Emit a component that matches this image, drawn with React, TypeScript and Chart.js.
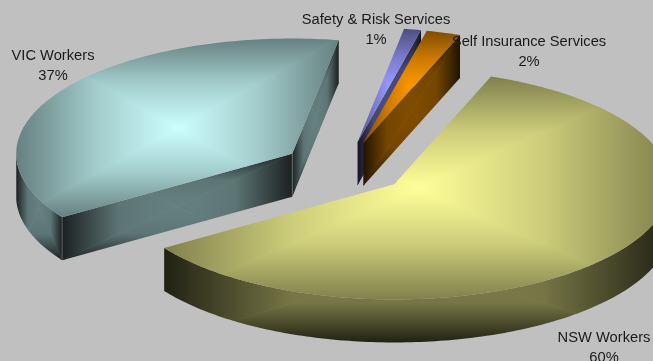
import { useEffect, useRef } from "react";
import { Chart, registerables } from "chart.js";

Chart.register(...registerables);

// Share of workers by business line.
const categories = ["NSW Workers", "VIC Workers", "Safety & Risk Services", "Self Insurance Services"];
const shares = [60, 37, 1, 2];
const sliceColors = ["#ffff99", "#ccffff", "#9999ff", "#ff9900"];

// Tilted-disc look of the pie.
const SQUASH = 0.417;
const DEPTH = 43;
// Brightness at the centre, halfway out and at the edge of a face's gradient.
const TOP_SHADES: [number, number, number] = [1, 0.8, 0.5];
const WALL_SHADES: [number, number, number] = [0.5, 0.46, 0.13];

const labelCentres = [
  { x: 604, y: 338 },
  { x: 53, y: 56 },
  { x: 376, y: 20 },
  { x: 529, y: 42 },
];

type Pt = { x: number; y: number };

function shade(hex: string, k: number) {
  const n = parseInt(hex.slice(1), 16);
  const ch = (v: number) => Math.round(v * k);
  return `rgb(${ch((n >> 16) & 255)},${ch((n >> 8) & 255)},${ch(n & 255)})`;
}

function tracePolygon(ctx: CanvasRenderingContext2D, pts: Pt[]) {
  ctx.beginPath();
  pts.forEach((p, i) => (i ? ctx.lineTo(p.x, p.y) : ctx.moveTo(p.x, p.y)));
  ctx.closePath();
}

// Rectangular path gradient: bright in the middle of the bounding box, falling
// off towards each of its four sides.
function fillPathGradient(
  ctx: CanvasRenderingContext2D,
  pts: Pt[],
  color: string,
  shades: [number, number, number],
) {
  const xs = pts.map((p) => p.x);
  const ys = pts.map((p) => p.y);
  const x0 = Math.min(...xs);
  const x1 = Math.max(...xs);
  const y0 = Math.min(...ys);
  const y1 = Math.max(...ys);
  const cx = (x0 + x1) / 2;
  const cy = (y0 + y1) / 2;
  ctx.save();
  tracePolygon(ctx, pts);
  ctx.clip();
  const sides: [Pt, Pt, Pt][] = [
    [{ x: x0, y: y0 }, { x: x1, y: y0 }, { x: cx, y: y0 }],
    [{ x: x1, y: y0 }, { x: x1, y: y1 }, { x: x1, y: cy }],
    [{ x: x1, y: y1 }, { x: x0, y: y1 }, { x: cx, y: y1 }],
    [{ x: x0, y: y1 }, { x: x0, y: y0 }, { x: x0, y: cy }],
  ];
  for (const [a, b, end] of sides) {
    const g = ctx.createLinearGradient(cx, cy, end.x, end.y);
    g.addColorStop(0, shade(color, shades[0]));
    g.addColorStop(0.5, shade(color, shades[1]));
    g.addColorStop(1, shade(color, shades[2]));
    tracePolygon(ctx, [a, b, { x: cx, y: cy }]);
    ctx.fillStyle = g;
    ctx.strokeStyle = g;
    ctx.lineWidth = 0.7;
    ctx.fill();
    ctx.stroke();
  }
  ctx.restore();
}

const down = (p: Pt): Pt => ({ x: p.x, y: p.y + DEPTH });

function drawSlice(ctx: CanvasRenderingContext2D, arc: any, color: string) {
  const { x, y, startAngle, endAngle, outerRadius } = arc.getProps(["x", "y", "startAngle", "endAngle", "outerRadius"], true);
  const mid = (startAngle + endAngle) / 2;
  const offset = arc.options.offset;
  const apex: Pt = {
    x: x + Math.cos(mid) * offset,
    y: y + Math.sin(mid) * offset * SQUASH,
  };
  const rimAt = (a: number): Pt => ({
    x: apex.x + Math.cos(a) * outerRadius,
    y: apex.y + Math.sin(a) * outerRadius * SQUASH,
  });
  const steps = Math.max(2, Math.ceil(((endAngle - startAngle) * 180) / Math.PI));
  const rim: Pt[] = [];
  for (let i = 0; i <= steps; i++) rim.push(rimAt(startAngle + ((endAngle - startAngle) * i) / steps));

  const cutWall = (p: Pt) => fillPathGradient(ctx, [apex, p, down(p), down(apex)], color, WALL_SHADES);
  const startFaces = Math.sin(startAngle - Math.PI / 2) > 0;
  const endFaces = Math.sin(endAngle + Math.PI / 2) > 0;

  // Outer wall: only the part of the rim on the near side of the disc.
  const near = rim.filter((_, i) => Math.sin(startAngle + ((endAngle - startAngle) * i) / steps) > 0);
  if (near.length > 1) {
    fillPathGradient(ctx, [...near, ...near.map(down).reverse()], color, WALL_SHADES);
  }
  if (startFaces) cutWall(rim[0]);
  if (endFaces) cutWall(rim[rim.length - 1]);

  // Top face.
  fillPathGradient(ctx, [apex, ...rim], color, TOP_SHADES);

  // Fine highlights on the vertical corners of the visible cut walls.
  ctx.save();
  ctx.strokeStyle = "rgba(205,205,205,0.4)";
  ctx.lineWidth = 0.8;
  const stroke = (a: Pt, b: Pt) => {
    ctx.beginPath();
    ctx.moveTo(a.x, a.y);
    ctx.lineTo(b.x, b.y);
    ctx.stroke();
  };
  if (startFaces) stroke(rim[0], down(rim[0]));
  if (startFaces && endFaces) stroke(apex, down(apex));
  ctx.restore();
}

const tiltedPie = {
  id: "tiltedPie",
  beforeDraw(chart: any) {
    const { ctx, width, height } = chart;
    ctx.save();
    ctx.fillStyle = "#c0c0c0";
    ctx.fillRect(0, 0, width, height);
    ctx.restore();
  },
  beforeDatasetDraw(chart: any, args: any) {
    const { ctx } = chart;
    const arcs = chart.getDatasetMeta(args.index).data;
    ctx.save();
    arcs.forEach((arc: any, i: number) => drawSlice(ctx, arc, sliceColors[i]));
    ctx.restore();
    return false;
  },
  afterDraw(chart: any) {
    const { ctx } = chart;
    const total = shares.reduce((a, b) => a + b, 0);
    ctx.save();
    ctx.font = '14.7px "Liberation Sans", Arial, sans-serif';
    ctx.fillStyle = "#1a1a1a";
    ctx.textAlign = "center";
    ctx.textBaseline = "middle";
    categories.forEach((name, i) => {
      const { x, y } = labelCentres[i];
      ctx.fillText(name, x, y);
      ctx.fillText(`${Math.round((shares[i] / total) * 100)}%`, x, y + 20);
    });
    ctx.restore();
  },
};

export default function App() {
  const ref = useRef<HTMLCanvasElement>(null);
  useEffect(() => {
    document.body.style.margin = "0";
    document.body.style.background = "#c0c0c0";
    const chart = new Chart(ref.current!, {
      type: "pie",
      data: {
        labels: categories,
        datasets: [{ data: shares, backgroundColor: sliceColors, borderWidth: 0, offset: 63 }],
      },
      options: {
        animation: false,
        responsive: false,
        radius: 276,
        rotation: 20.5,
        layout: { padding: { left: 37, bottom: 25 } },
        plugins: { legend: { display: false }, tooltip: { enabled: false } },
      },
      plugins: [tiltedPie],
    } as any);
    return () => chart.destroy();
  }, []);
  return <canvas ref={ref} width={653} height={361} style={{ display: "block" }} />;
}
